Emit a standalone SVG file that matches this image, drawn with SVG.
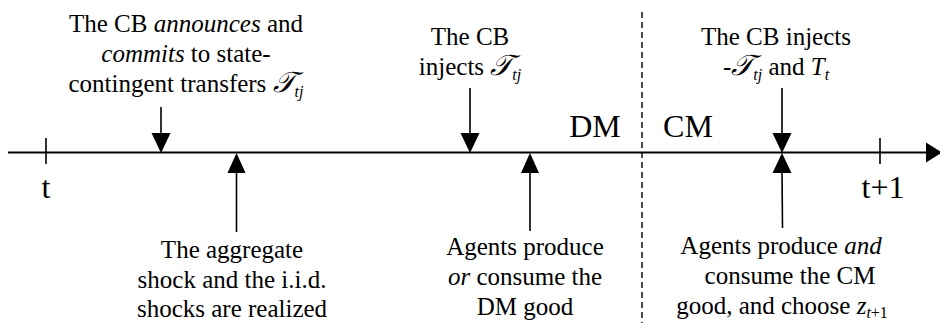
<svg xmlns="http://www.w3.org/2000/svg" width="940" height="323" viewBox="0 0 940 323" font-family="'Liberation Serif', 'Times New Roman', serif">
<style>
text{font-family:"Liberation Serif","Times New Roman",serif;font-size:25px;fill:#000;text-anchor:middle}
.big{font-size:32px}
.it{font-style:italic}
.scr{font-family:"DejaVu Serif","DejaVu Sans",serif;font-style:italic;font-size:29px}
.sub{font-size:16px;font-style:italic}
.ln{stroke:#000;stroke-width:1.6;fill:none}
.ax{stroke:#000;stroke-width:2;fill:none}
.hd{fill:#000;stroke:none}
</style>
<rect width="940" height="323" fill="#fff"/>
<g id="connectors">
<line class="ax" x1="8" y1="152.5" x2="928" y2="152.5"/>
<polygon class="hd" points="926,142.5 942,152.5 926,162.5"/>
<line class="ln" x1="46" y1="138" x2="46" y2="164"/>
<line class="ln" x1="880" y1="138" x2="880" y2="164"/>
<line stroke="#000" stroke-width="1.4" stroke-dasharray="6,4" x1="642" y1="12" x2="642" y2="323"/>
<line class="ln" x1="161" y1="107" x2="161" y2="135"/>
<polygon class="hd" points="151.5,133 170.5,133 161,153"/>
<line class="ln" x1="470" y1="88" x2="470" y2="135"/>
<polygon class="hd" points="460.5,133 479.5,133 470,153"/>
<line class="ln" x1="782" y1="88" x2="782" y2="135"/>
<polygon class="hd" points="772.5,133 791.5,133 782,153"/>
<line class="ln" x1="236.5" y1="170" x2="236.5" y2="232"/>
<polygon class="hd" points="227.5,173 245.5,173 236.5,153"/>
<line class="ln" x1="530" y1="170" x2="530" y2="231"/>
<polygon class="hd" points="521,173 539,173 530,153"/>
<line class="ln" x1="782" y1="170" x2="782.5" y2="228"/>
<polygon class="hd" points="772.5,173 791.5,173 782,153"/>
</g>
<g id="tick-t"><text class="big" x="46" y="198">t</text></g>
<g id="tick-t1"><text class="big" x="883" y="198">t+1</text></g>
<g id="label-DM"><text class="big" x="595" y="137">DM</text></g>
<g id="label-CM"><text class="big" x="688" y="137">CM</text></g>
<g id="announce">
<text x="186" y="32">The CB <tspan class="it">announces</tspan> and</text>
<text x="186" y="62"><tspan class="it">commits</tspan> to state-</text>
<text x="186" y="92">contingent transfers  <tspan class="scr">𝒯</tspan><tspan class="sub" dy="5">tj</tspan></text>
</g>
<g id="inject-dm">
<text x="470" y="45">The CB</text>
<text x="470" y="75">injects <tspan class="scr">𝒯</tspan><tspan class="sub" dy="5">tj</tspan></text>
</g>
<g id="inject-cm">
<text x="776" y="45">The CB injects</text>
<text x="776" y="75">-<tspan class="scr">𝒯</tspan><tspan class="sub" dy="5">tj</tspan><tspan dy="-5"> and </tspan><tspan class="it">T</tspan><tspan class="sub" dy="5">t</tspan></text>
</g>
<g id="shocks">
<text x="232" y="258">The aggregate</text>
<text x="232" y="288">shock and the i.i.d.</text>
<text x="232" y="317">shocks are realized</text>
</g>
<g id="dm-trade">
<text x="525" y="255">Agents produce</text>
<text x="525" y="285"><tspan class="it">or</tspan> consume the</text>
<text x="525" y="315">DM good</text>
</g>
<g id="cm-trade">
<text x="781" y="254">Agents produce <tspan class="it">and</tspan></text>
<text x="790" y="284">consume the CM</text>
<text x="782" y="314">good, and choose <tspan class="it">z</tspan><tspan dy="4" style="font-size:16px"><tspan class="it">t</tspan>+1</tspan></text>
</g>
</svg>
